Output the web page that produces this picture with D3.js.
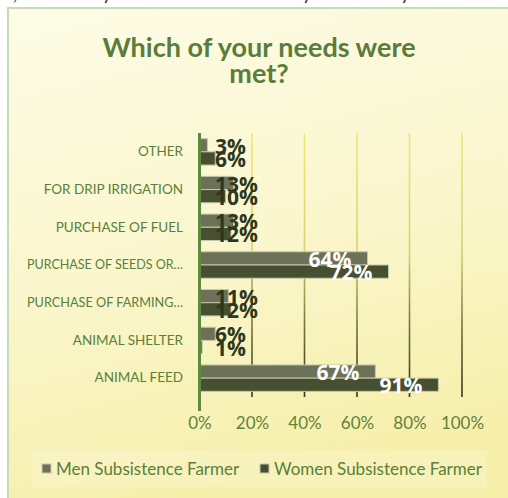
<!DOCTYPE html>
<html>
<head>
<meta charset="utf-8">
<script src="https://cdn.jsdelivr.net/npm/d3@7"></script>
<style>
  html, body { margin: 0; padding: 0; background: #ffffff; }
  svg { display: block; }
  text { font-family: Lato, "Open Sans", sans-serif; }
</style>
</head>
<body>
<svg id="chart" width="508" height="498"></svg>
<script>
// Survey responses: share of farmers whose needs were met, by use of support
const categories = [
  "OTHER",
  "FOR DRIP IRRIGATION",
  "PURCHASE OF FUEL",
  "PURCHASE OF SEEDS OR…",
  "PURCHASE OF FARMING…",
  "ANIMAL SHELTER",
  "ANIMAL FEED"
];
const seriesNames = ["Men Subsistence Farmer", "Women Subsistence Farmer"];
const menValues   = [3, 13, 13, 64, 11, 6, 67];
const womenValues = [6, 10, 12, 72, 12, 1, 91];
const tickValues  = [0, 20, 40, 60, 80, 100];
const titleLines  = ["Which of your needs were", "met?"];

const svg = d3.select("#chart");
const defs = svg.append("defs");

// panel background gradient
const bg = defs.append("linearGradient").attr("id", "bgGrad")
  .attr("x1", "0").attr("y1", "0").attr("x2", "0.25").attr("y2", "1");
bg.append("stop").attr("offset", "0").attr("stop-color", "#fdfce6");
bg.append("stop").attr("offset", "0.55").attr("stop-color", "#faf6cc");
bg.append("stop").attr("offset", "1").attr("stop-color", "#f6efa9");

// gridlines fade from yellow to dark olive
const gg = defs.append("linearGradient").attr("id", "gridGrad")
  .attr("gradientUnits", "userSpaceOnUse")
  .attr("x1", 0).attr("y1", 133).attr("x2", 0).attr("y2", 397);
gg.append("stop").attr("offset", "0").attr("stop-color", "#efe77a");
gg.append("stop").attr("offset", "0.45").attr("stop-color", "#d9d070");
gg.append("stop").attr("offset", "0.75").attr("stop-color", "#6d6f3a");
gg.append("stop").attr("offset", "1").attr("stop-color", "#2f3a1c");

defs.append("clipPath").attr("id", "plotClip")
  .append("rect").attr("x", 0).attr("y", 133).attr("width", 508).attr("height", 264);

// question line above the panel (only its descenders show)
svg.append("text")
  .attr("x", 254).attr("y", 0)
  .attr("text-anchor", "middle")
  .attr("font-size", 20)
  .attr("fill", "#333")
  .text("Q7, if yes, which of your needs were met by the money? Tick all that apply");

// chart panel
svg.append("rect")
  .attr("x", 8).attr("y", 8).attr("width", 520).attr("height", 510)
  .attr("fill", "url(#bgGrad)")
  .attr("stroke", "#c6dcb6").attr("stroke-width", 2);

// title
svg.append("g").selectAll("text").data(titleLines).join("text")
  .attr("x", 259)
  .attr("y", (d, i) => 57 + i * 26)
  .attr("text-anchor", "middle")
  .attr("font-size", 27)
  .attr("font-weight", "bold")
  .attr("fill", "#5b7c3b")
  .text(d => d);

// scales
const x = d3.scaleLinear().domain([0, 100]).range([199.5, 462]);
const y = d3.scaleBand().domain(categories).range([133, 397])
  .paddingInner(0.3).paddingOuter(0.15);
const sub = d3.scaleBand().domain(seriesNames).range([0, y.bandwidth()]);
const colors = d3.scaleOrdinal().domain(seriesNames).range(["#6c7158", "#474f31"]);

// gridlines
svg.append("g").selectAll("line").data(tickValues.filter(t => t > 0)).join("line")
  .attr("x1", d => x(d)).attr("x2", d => x(d))
  .attr("y1", 133).attr("y2", 397)
  .attr("stroke", "url(#gridGrad)")
  .attr("stroke-width", 1.6);

// bars
const rows = categories.map((c, i) => ({ cat: c, values: [menValues[i], womenValues[i]] }));
const barG = svg.append("g");
rows.forEach(r => {
  seriesNames.forEach((s, j) => {
    barG.append("rect")
      .attr("x", x(0))
      .attr("y", y(r.cat) + sub(s))
      .attr("width", x(r.values[j]) - x(0))
      .attr("height", sub.bandwidth())
      .attr("fill", colors(s))
      .attr("stroke", "#c3c8b0")
      .attr("stroke-width", 1);
  });
});

// vertical value axis line
svg.append("line")
  .attr("x1", x(0)).attr("x2", x(0))
  .attr("y1", 133).attr("y2", 411)
  .attr("stroke", "#5d8a3c").attr("stroke-width", 3);

// category labels, squeezed when longer than the label column
const labelMax = 156;
const yAxis = d3.axisLeft(y).tickSize(0).tickPadding(0);
const yg = svg.append("g").attr("transform", "translate(183,0)").call(yAxis);
yg.select(".domain").remove();
yg.selectAll("text")
  .attr("font-size", 13.5)
  .attr("fill", "#5b7f3a")
  .style("font-family", "Lato, sans-serif")
  .each(function () {
    const w = this.getComputedTextLength();
    if (w > labelMax) {
      d3.select(this).attr("textLength", labelMax).attr("lengthAdjust", "spacingAndGlyphs");
    }
  });

// value tick labels
const xAxis = d3.axisBottom(x).tickValues(tickValues).tickSize(0).tickPadding(0)
  .tickFormat(d => d + "%");
const xg = svg.append("g").attr("transform", "translate(0,416.5)").call(xAxis);
xg.select(".domain").remove();
xg.selectAll("text")
  .attr("font-size", 17)
  .attr("fill", "#5e823d")
  .attr("dy", "0.71em")
  .style("font-family", "Lato, sans-serif");

// data labels
const labG = svg.append("g").attr("clip-path", "url(#plotClip)");
seriesNames.forEach((s, j) => {
  rows.forEach(r => {
    const v = r.values[j];
    const inside = v > 30;
    labG.append("text")
      .attr("x", inside ? x(v) - 16 : 215)
      .attr("y", y(r.cat) + sub(s) + sub.bandwidth() / 2 + 1)
      .attr("dy", "0.36em")
      .attr("text-anchor", inside ? "end" : "start")
      .attr("font-size", 21)
      .attr("font-weight", "bold")
      .attr("fill", inside ? "#ffffff" : "#2c371d")
      .style("font-family", "'Open Sans', sans-serif")
      .text(v + "%");
  });
});

// legend
const leg = svg.append("g");
leg.append("rect")
  .attr("x", 33).attr("y", 450).attr("width", 454).attr("height", 37)
  .attr("fill", "#ffffff").attr("fill-opacity", 0.18);
const legX = [42, 260];
seriesNames.forEach((s, i) => {
  leg.append("rect")
    .attr("x", legX[i]).attr("y", 464).attr("width", 9).attr("height", 9)
    .attr("fill", colors(s)).attr("stroke", "#c3c8b0").attr("stroke-width", 1);
  leg.append("text")
    .attr("x", legX[i] + 14).attr("y", 468.5)
    .attr("dy", "0.36em")
    .attr("font-size", 17)
    .attr("fill", "#5b7f3a")
    .text(s);
});
</script>
</body>
</html>
